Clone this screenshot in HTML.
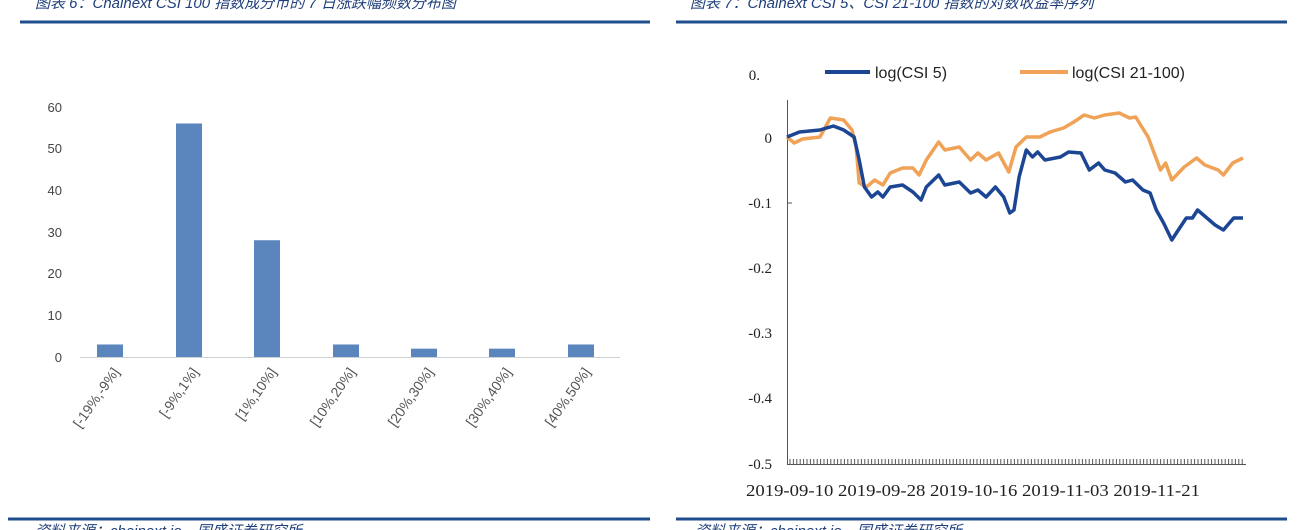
<!DOCTYPE html>
<html><head><meta charset="utf-8"><style>
body{margin:0;width:1297px;height:530px;background:#fff;overflow:hidden;font-family:"Liberation Sans","Noto Sans CJK SC",sans-serif}
.t{position:absolute;top:-8px;font-style:italic;color:#1f3f7a;font-size:15px;font-family:"Liberation Sans","Noto Sans CJK SC",sans-serif}
</style></head><body>
<div class="t" style="left:35px">图表 6：Chainext CSI 100 指数成分币的 7 日涨跌幅频数分布图</div>
<div class="t" style="left:690px">图表 7：Chainext CSI 5、CSI 21-100 指数的对数收益率序列</div>
<svg width="1297" height="530" style="position:absolute;left:0;top:0" id="s">
<line x1="20" y1="22" x2="650" y2="22" stroke="#1f4e8c" stroke-width="3"/>
<line x1="676" y1="22" x2="1287" y2="22" stroke="#1f4e8c" stroke-width="3"/>
<line x1="8" y1="519" x2="650" y2="519" stroke="#1f4e8c" stroke-width="3"/>
<line x1="676" y1="519" x2="1287" y2="519" stroke="#1f4e8c" stroke-width="3"/>
<text x="35" y="536" font-size="15" fill="#1f3f7a" font-style="italic">资料来源：chainext.io，国盛证券研究所</text>
<text x="695" y="536" font-size="15" fill="#1f3f7a" font-style="italic">资料来源：chainext.io，国盛证券研究所</text>
<g font-size="13" fill="#444" text-anchor="end">
<text x="62" y="362">0</text><text x="62" y="320">10</text><text x="62" y="278">20</text><text x="62" y="237">30</text><text x="62" y="195">40</text><text x="62" y="153">50</text><text x="62" y="112">60</text>
</g>
<line x1="80" y1="357.5" x2="620" y2="357.5" stroke="#d0d0d0"/>
<g id="bars" fill="#5b85bd"></g>
<g id="blab" font-size="14" fill="#555" text-anchor="end"></g>
<g font-family="Liberation Serif,serif" font-size="15" fill="#222" text-anchor="end">
<text x="772" y="143">0</text><text x="772" y="208">-0.1</text><text x="772" y="273">-0.2</text><text x="772" y="338">-0.3</text><text x="772" y="403">-0.4</text><text x="772" y="469">-0.5</text>
<text x="760" y="80">0.</text>
</g>
<line x1="787.5" y1="100" x2="787.5" y2="465" stroke="#555"/>
<line x1="787" y1="464.5" x2="1246" y2="464.5" stroke="#555"/>
<line x1="787" y1="203" x2="792" y2="203" stroke="#555"/>
<g id="ticks" stroke="#555"></g>
<text x="746" y="496" font-family="Liberation Serif,serif" font-size="17" fill="#222" textLength="454" lengthAdjust="spacingAndGlyphs">2019-09-10 2019-09-28 2019-10-16 2019-11-03 2019-11-21</text>
<line x1="825" y1="72" x2="870" y2="72" stroke="#1c4694" stroke-width="4"/>
<text x="875" y="78" font-size="16" fill="#222">log(CSI 5)</text>
<line x1="1020" y1="72" x2="1068" y2="72" stroke="#f0a256" stroke-width="4"/>
<text x="1072" y="78" font-size="16" fill="#222">log(CSI 21-100)</text>
<polyline id="o" fill="none" stroke="#f0a256" stroke-width="3.5" stroke-linejoin="round"/>
<polyline id="b" fill="none" stroke="#1c4694" stroke-width="3.5" stroke-linejoin="round"/>
</svg>
<script>
var ns="http://www.w3.org/2000/svg";
var xs=[110,189,267,346,424,502,581],vs=[3,56,28,3,2,2,3],lb=["[-19%,-9%]","[-9%,1%]","[1%,10%]","[10%,20%]","[20%,30%]","[30%,40%]","[40%,50%]"];
for(var i=0;i<7;i++){var r=document.createElementNS(ns,"rect");r.setAttribute("x",xs[i]-13);r.setAttribute("width",26);r.setAttribute("y",357-vs[i]*4.17);r.setAttribute("height",vs[i]*4.17);document.getElementById("bars").appendChild(r);
var t=document.createElementNS(ns,"text");t.setAttribute("transform","translate("+(xs[i]+10)+",372) rotate(-55)");t.textContent=lb[i];document.getElementById("blab").appendChild(t);}
var tk="";for(var x=790;x<1245;x+=3.4)tk+='<line x1="'+x.toFixed(1)+'" y1="459" x2="'+x.toFixed(1)+'" y2="464"/>';document.getElementById("ticks").innerHTML=tk;
function m(a){return a.map(function(p){return ((p[0]-785)*456/442+787).toFixed(1)+","+p[1]}).join(" ")}
var B=[[785,137],[797,132],[817,130],[830,126],[840,130],[850,137],[855,160],[860,187],[867,197],[873,192],[878,197],[885,187],[897,185],[907,192],[915,200],[920,187],[932,175],[938,185],[952,182],[963,193],[970,190],[978,197],[987,187],[995,197],[1001,213],[1005,210],[1010,177],[1017,150],[1023,157],[1028,152],[1035,160],[1050,157],[1058,152],[1070,153],[1078,170],[1087,163],[1093,170],[1103,173],[1113,182],[1120,180],[1130,190],[1137,193],[1143,210],[1150,223],[1158,240],[1163,232],[1172,218],[1178,218],[1183,210],[1192,218],[1200,225],[1208,230],[1218,218],[1227,218]];
var O=[[785,137],[792,143],[800,139],[817,137],[827,118],[840,120],[848,130],[852,147],[855,183],[862,187],[870,180],[878,185],[885,173],[897,168],[907,168],[913,175],[920,160],[932,142],[938,150],[952,147],[963,160],[970,153],[978,160],[990,153],[1000,172],[1007,147],[1017,137],[1030,137],[1040,132],[1053,128],[1063,122],[1073,115],[1083,118],[1093,115],[1107,113],[1117,118],[1123,117],[1135,137],[1147,170],[1152,163],[1158,180],[1170,167],[1182,158],[1190,165],[1203,170],[1208,175],[1217,163],[1227,158]];
document.getElementById("b").setAttribute("points",m(B));
document.getElementById("o").setAttribute("points",m(O));
</script>
</body></html>
